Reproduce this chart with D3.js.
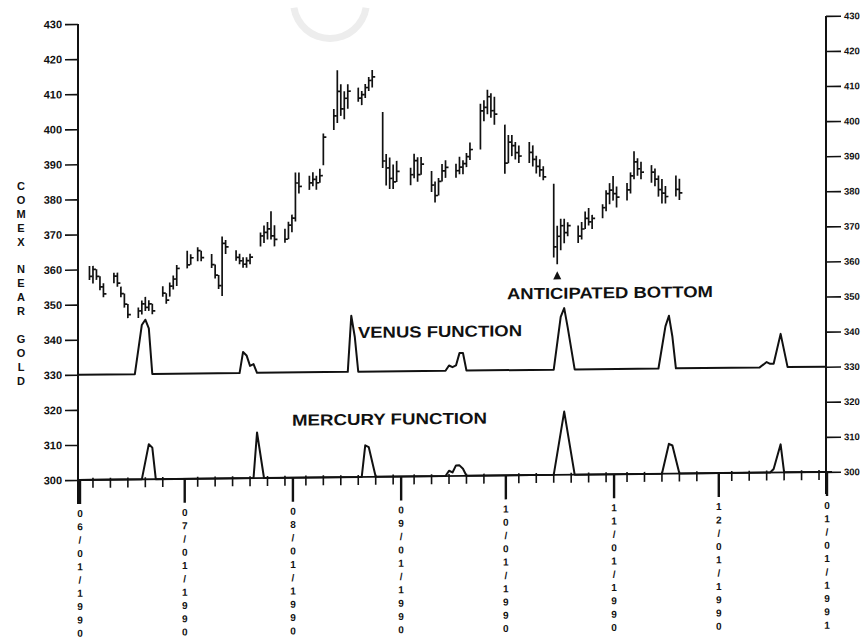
<!DOCTYPE html>
<html>
<head>
<meta charset="utf-8">
<script src="https://cdn.jsdelivr.net/npm/d3@7"></script>
<style>
  body { margin: 0; background: #fff; }
  text { font-family: "Liberation Sans", Arial, sans-serif; font-weight: bold; fill: #111; }
</style>
</head>
<body>
<script>
// price ticks (both axes share the same scale)
const yTicks = [300, 310, 320, 330, 340, 350, 360, 370, 380, 390, 400, 410, 420, 430];
const monthTicks = ["1990-06-01", "1990-07-01", "1990-08-01", "1990-09-01", "1990-10-01",
  "1990-11-01", "1990-12-01", "1991-01-01"];
const monthLabels = ["06/01/1990", "07/01/1990", "08/01/1990", "09/01/1990", "10/01/1990",
  "11/01/1990", "12/01/1990", "01/01/1991"];
const minorDays = [5, 10, 15, 20, 25, 30];

// Comex near gold, daily high / low / close
const barDates = [
  "1990-06-04", "1990-06-05", "1990-06-06", "1990-06-07", "1990-06-08",
  "1990-06-11", "1990-06-12", "1990-06-13", "1990-06-14", "1990-06-15",
  "1990-06-18", "1990-06-19", "1990-06-20", "1990-06-21", "1990-06-22",
  "1990-06-25", "1990-06-26", "1990-06-27", "1990-06-28", "1990-06-29",
  "1990-07-02", "1990-07-03", "1990-07-05", "1990-07-06",
  "1990-07-09", "1990-07-10", "1990-07-11", "1990-07-12", "1990-07-13",
  "1990-07-16", "1990-07-17", "1990-07-18", "1990-07-19", "1990-07-20",
  "1990-07-23", "1990-07-24", "1990-07-25", "1990-07-26", "1990-07-27",
  "1990-07-30", "1990-07-31", "1990-08-01", "1990-08-02", "1990-08-03",
  "1990-08-06", "1990-08-07", "1990-08-08", "1990-08-09", "1990-08-10",
  "1990-08-13", "1990-08-14", "1990-08-15", "1990-08-16", "1990-08-17",
  "1990-08-20", "1990-08-21", "1990-08-22", "1990-08-23", "1990-08-24",
  "1990-08-27", "1990-08-28", "1990-08-29", "1990-08-30", "1990-08-31",
  "1990-09-04", "1990-09-05", "1990-09-06", "1990-09-07",
  "1990-09-10", "1990-09-11", "1990-09-12", "1990-09-13", "1990-09-14",
  "1990-09-17", "1990-09-18", "1990-09-19", "1990-09-20", "1990-09-21",
  "1990-09-24", "1990-09-25", "1990-09-26", "1990-09-27", "1990-09-28",
  "1990-10-01", "1990-10-02", "1990-10-03", "1990-10-04", "1990-10-05",
  "1990-10-08", "1990-10-09", "1990-10-10", "1990-10-11", "1990-10-12",
  "1990-10-15", "1990-10-16", "1990-10-17", "1990-10-18", "1990-10-19",
  "1990-10-22", "1990-10-23", "1990-10-24", "1990-10-25", "1990-10-26",
  "1990-10-29", "1990-10-30", "1990-10-31", "1990-11-01", "1990-11-02",
  "1990-11-05", "1990-11-06", "1990-11-07", "1990-11-08", "1990-11-09",
  "1990-11-12", "1990-11-13", "1990-11-14", "1990-11-15", "1990-11-16",
  "1990-11-19", "1990-11-20"
];
const barHigh = [
  361, 361, 360, 358, 356,  359, 359, 355, 353, 350,  349, 351, 352, 351, 350,
  355, 353, 356, 358, 361,  365, 364, 366, 365,  364, 361, 358, 369, 368,
  365, 364, 363, 363, 364,  370, 372, 373, 376, 372,  371, 373, 375, 387, 387,
  386, 387, 386, 388, 398,  405, 416, 412, 410, 412,  411, 410, 412, 414, 416,
  404, 392, 391, 389, 390,  388, 392, 391, 391,  387, 384, 385, 389, 390,
  389, 391, 390, 392, 395,  406, 407, 410, 409, 408,  400, 397, 397, 395, 394,
  395, 394, 391, 390, 388,  383, 371, 373, 373, 372,  371, 372, 375, 376, 374,
  377, 381, 383, 385, 382,  383, 386, 392, 390, 389,  388, 387, 385, 384, 382,
  385, 384
];
const barLow = [
  357, 356, 357, 354, 352,  356, 355, 352, 349, 346,  346, 347, 348, 348, 347,
  352, 350, 352, 354, 355,  360, 361, 362, 362,  360, 357, 354, 352, 364,
  362, 361, 360, 360, 361,  366, 367, 368, 368, 366,  367, 368, 370, 373, 381,
  382, 383, 382, 384, 389,  399, 401, 403, 402, 405,  407, 406, 408, 410, 411,
  388, 383, 382, 382, 384,  383, 385, 384, 386,  381, 378, 380, 384, 385,
  385, 386, 386, 388, 390,  393, 401, 403, 402, 400,  386, 389, 391, 390, 389,
  389, 388, 386, 385, 384,  362, 360, 364, 366, 368,  366, 367, 370, 371, 370,
  373, 375, 377, 378, 376,  378, 380, 384, 385, 384,  383, 382, 379, 377, 377,
  379, 378
];
const barClose = [
  358, 360, 358, 355, 353,  358, 356, 353, 350, 347,  348, 350, 349, 350, 348,
  353, 351, 355, 357, 360,  361, 363, 365, 363,  361, 358, 355, 367, 366,
  363, 362, 361, 362, 363,  369, 370, 371, 369, 368,  368, 372, 374, 384, 383,
  384, 385, 384, 386, 397,  403, 410, 405, 408, 410,  408, 409, 411, 413, 414,
  390, 388, 385, 384, 387,  386, 390, 386, 389,  383, 380, 384, 387, 388,
  387, 388, 389, 391, 393,  404, 405, 408, 404, 403,  389, 395, 394, 392, 391,
  392, 390, 388, 387, 385,  365, 368, 371, 369, 371,  368, 370, 373, 372, 373,
  376, 380, 381, 380, 379,  381, 385, 389, 387, 386,  386, 384, 381, 380, 379,
  381, 380
];

// Venus function (drawn on the 330 baseline)
const venusDates = [
  "1990-06-01", "1990-06-17", "1990-06-19", "1990-06-20", "1990-06-21", "1990-06-22",
  "1990-07-17", "1990-07-18", "1990-07-19", "1990-07-20", "1990-07-21", "1990-07-22",
  "1990-08-17", "1990-08-18", "1990-08-19", "1990-08-20",
  "1990-09-14", "1990-09-15", "1990-09-16", "1990-09-17", "1990-09-18", "1990-09-19", "1990-09-20",
  "1990-10-15", "1990-10-17", "1990-10-18", "1990-10-19", "1990-10-21",
  "1990-11-14", "1990-11-16", "1990-11-17", "1990-11-18", "1990-11-19",
  "1990-12-13", "1990-12-15", "1990-12-16", "1990-12-17", "1990-12-19", "1990-12-21",
  "1991-01-01"
];
const venusValues = [
  330, 330, 344, 345.5, 343, 330,
  330, 336, 335, 332, 332.5, 330,
  330, 346, 340, 330,
  330, 331.5, 331, 331.5, 335, 335, 330,
  330, 345, 347.5, 342, 330,
  330, 342, 345, 339, 330,
  330, 331.5, 331, 331, 339.5, 330,
  330
];

// Mercury function (drawn on the 300 baseline)
const mercuryDates = [
  "1990-06-01", "1990-06-19", "1990-06-21", "1990-06-22", "1990-06-23",
  "1990-07-21", "1990-07-22", "1990-07-24",
  "1990-08-21", "1990-08-22", "1990-08-23", "1990-08-25",
  "1990-09-14", "1990-09-15", "1990-09-16", "1990-09-17", "1990-09-18", "1990-09-19", "1990-09-20",
  "1990-10-15", "1990-10-18", "1990-10-21",
  "1990-11-15", "1990-11-17", "1990-11-18", "1990-11-20",
  "1990-12-16", "1990-12-17", "1990-12-19", "1990-12-20",
  "1991-01-01"
];
const mercuryValues = [
  300, 300, 310, 309, 300,
  300, 313, 300,
  300, 309, 308.5, 300,
  300, 301.5, 301, 303, 303, 302, 300,
  300, 318, 300,
  300, 308.5, 308, 300,
  300, 301, 308, 300,
  300
];

const bottomDate = "1990-10-16";
const axisTitle = "COMEX NEAR GOLD";

const W = 861, H = 641;
const parse = d3.utcParse("%Y-%m-%d");

const svg = d3.select("body").append("svg")
  .attr("width", W).attr("height", H);

// faint watermark ring at the top of the scan
svg.append("path")
  .attr("d", d3.arc()({innerRadius: 33, outerRadius: 40, startAngle: Math.PI * 0.55, endAngle: Math.PI * 1.45}))
  .attr("transform", "translate(330,2)")
  .attr("fill", "#ededed");

// the scan is slightly tilted, so the whole plot is skewed a little
const g = svg.append("g")
  .attr("transform", "translate(79,480) skewY(-0.62) translate(-79,-480)");

const x = d3.scaleUtc()
  .domain([parse(monthTicks[0]), parse(monthTicks[monthTicks.length - 1])])
  .range([79, 826]);
const y = d3.scaleLinear().domain([300, 430]).range([480, 24]);

const leftX = 78, rightX = 826;

// left price axis
const yAxisL = g.append("g")
  .attr("transform", `translate(${leftX},0)`)
  .call(d3.axisLeft(y).tickValues(yTicks).tickSize(13).tickSizeOuter(0).tickPadding(3));
yAxisL.select(".domain").remove();
yAxisL.selectAll(".tick line").attr("stroke", "#111").attr("stroke-width", 1.6);
yAxisL.selectAll("text").attr("font-size", 11).attr("fill", "#111");
g.append("line")
  .attr("x1", leftX).attr("x2", leftX).attr("y1", y(430)).attr("y2", 504)
  .attr("stroke", "#111").attr("stroke-width", 2);

// right price axis (labels run to the page edge, as in the scan)
const yAxisR = g.append("g")
  .attr("transform", `translate(${rightX},0)`)
  .call(d3.axisRight(y).tickValues(yTicks).tickSize(15).tickSizeOuter(0).tickPadding(3));
yAxisR.select(".domain").remove();
yAxisR.selectAll(".tick line").attr("stroke", "#111").attr("stroke-width", 1.6);
yAxisR.selectAll("text").attr("font-size", 9.5).attr("fill", "#111");
g.append("line")
  .attr("x1", rightX).attr("x2", rightX).attr("y1", y(430)).attr("y2", 502)
  .attr("stroke", "#111").attr("stroke-width", 2);

// time axis on the 300 line
g.append("line")
  .attr("x1", leftX).attr("x2", rightX + 6).attr("y1", y(300)).attr("y2", y(300))
  .attr("stroke", "#111").attr("stroke-width", 1.8);

const minorDates = [];
monthTicks.slice(0, -1).forEach((m, k) => {
  const d0 = parse(m);
  const next = parse(monthTicks[k + 1]);
  minorDays.forEach(day => {
    const d = new Date(Date.UTC(d0.getUTCFullYear(), d0.getUTCMonth(), day));
    if (d.getUTCMonth() === d0.getUTCMonth() && x(next) - x(d) > 6) minorDates.push(d);
  });
});

g.selectAll("line.minor").data(minorDates).enter().append("line")
  .attr("class", "minor")
  .attr("x1", d => x(d)).attr("x2", d => x(d))
  .attr("y1", y(300) - 2).attr("y2", y(300) + 8)
  .attr("stroke", "#111").attr("stroke-width", 1.6);

g.selectAll("line.major").data(monthTicks).enter().append("line")
  .attr("class", "major")
  .attr("x1", d => x(parse(d)) + 1).attr("x2", d => x(parse(d)) + 1)
  .attr("y1", y(300)).attr("y2", y(300) + 24)
  .attr("stroke", "#111").attr("stroke-width", 2.4);

// stacked date labels, one character per line
const dateLab = g.selectAll("g.datelab").data(monthLabels).enter().append("g")
  .attr("class", "datelab")
  .attr("transform", (d, i) => `translate(${x(parse(monthTicks[i])) + 1},${y(300) + 37})`);
dateLab.selectAll("text").data(d => d.split("")).enter().append("text")
  .attr("y", (c, j) => j * 13.3)
  .attr("text-anchor", "middle")
  .attr("font-size", 10)
  .text(c => c);

// Venus and Mercury functions
const fnLine = d3.line().x(d => x(d[0])).y(d => y(d[1]));
const venus = venusDates.map((d, i) => [parse(d), venusValues[i]]);
const mercury = mercuryDates.map((d, i) => [parse(d), mercuryValues[i]]);

g.append("path").datum(venus)
  .attr("d", fnLine).attr("fill", "none")
  .attr("stroke", "#111").attr("stroke-width", 2).attr("stroke-linejoin", "round");
g.append("path").datum(mercury)
  .attr("d", fnLine).attr("fill", "none")
  .attr("stroke", "#111").attr("stroke-width", 2).attr("stroke-linejoin", "round");

// price bars
const bars = barDates.map((d, i) => ({date: parse(d), high: barHigh[i], low: barLow[i], close: barClose[i]}));
const bar = g.selectAll("g.bar").data(bars).enter().append("g").attr("class", "bar");
bar.append("line")
  .attr("x1", d => x(d.date)).attr("x2", d => x(d.date))
  .attr("y1", d => y(d.high)).attr("y2", d => y(d.low))
  .attr("stroke", "#111").attr("stroke-width", 1.7);
bar.append("line")
  .attr("x1", d => x(d.date)).attr("x2", d => x(d.date) + 3)
  .attr("y1", d => y(d.close)).attr("y2", d => y(d.close))
  .attr("stroke", "#111").attr("stroke-width", 1.7);

// anticipated bottom marker
const bd = bars.find(b => +b.date === +parse(bottomDate));
const bx = x(bd.date), by = y(bd.low) + 11;
g.append("path")
  .attr("d", `M${bx - 4},${by + 4}L${bx},${by - 4}L${bx + 4},${by + 4}Z`)
  .attr("fill", "#111");

g.append("text").attr("x", 507).attr("y", 304)
  .attr("font-size", 16).attr("textLength", 206).attr("lengthAdjust", "spacingAndGlyphs")
  .text("ANTICIPATED BOTTOM");
g.append("text").attr("x", 358).attr("y", 341)
  .attr("font-size", 16).attr("textLength", 164).attr("lengthAdjust", "spacingAndGlyphs")
  .text("VENUS FUNCTION");
g.append("text").attr("x", 292).attr("y", 428)
  .attr("font-size", 16).attr("textLength", 195).attr("lengthAdjust", "spacingAndGlyphs")
  .text("MERCURY FUNCTION");

// vertical axis title, stacked letters
svg.append("g").attr("transform", "translate(21,190)")
  .selectAll("text").data(axisTitle.split("")).enter().append("text")
  .attr("y", (c, i) => i * 13.9)
  .attr("text-anchor", "middle")
  .attr("font-size", 11)
  .text(c => c);
</script>
</body>
</html>
